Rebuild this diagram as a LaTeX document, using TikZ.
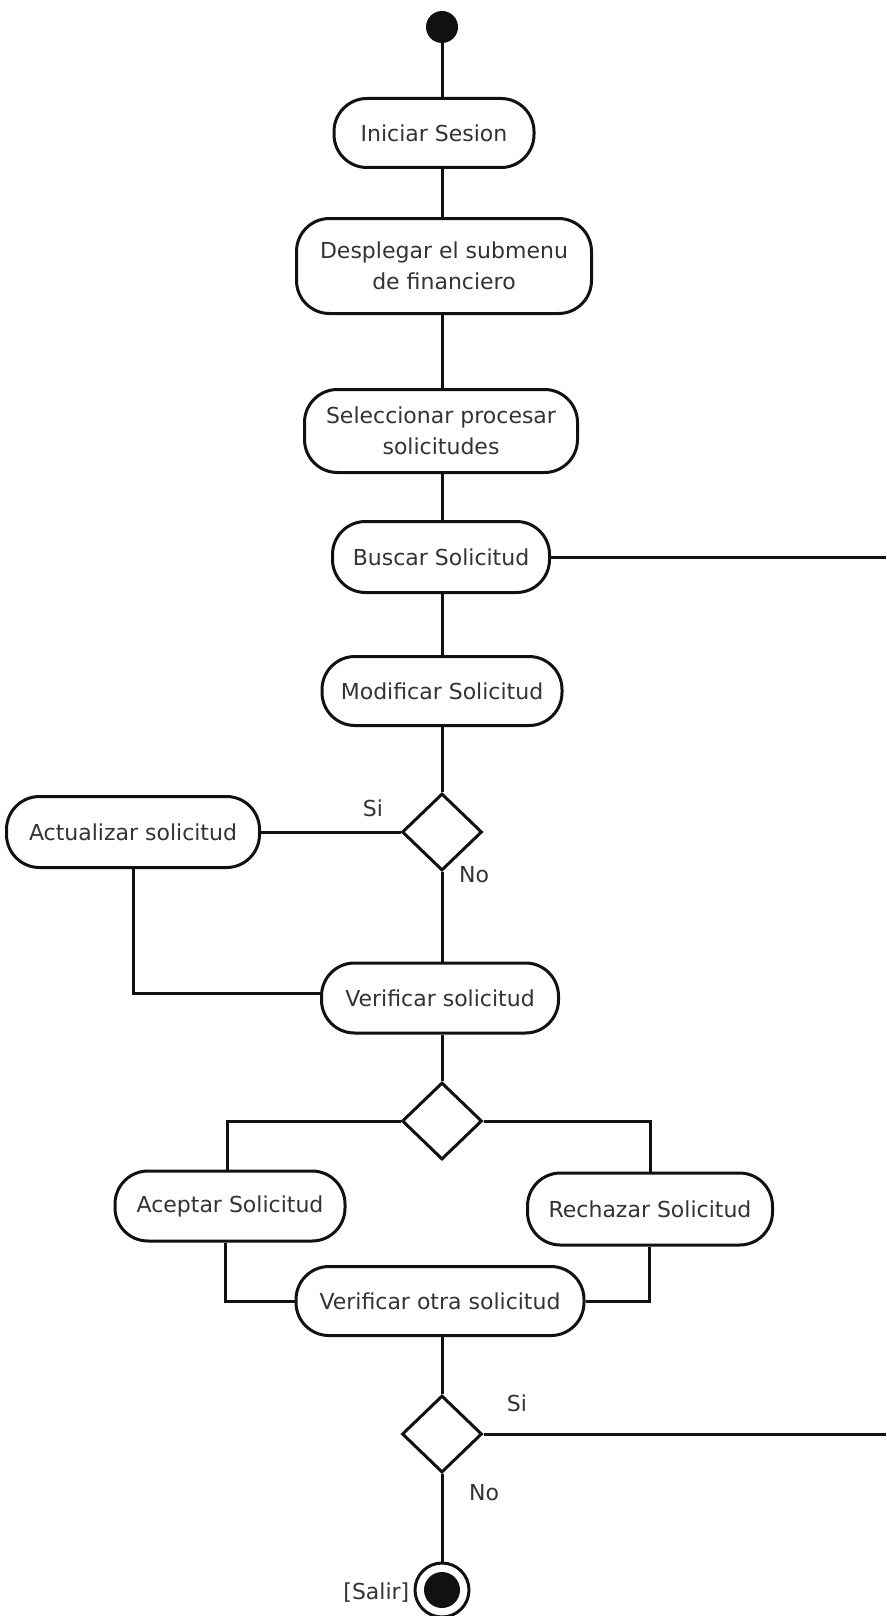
\documentclass[tikz,border=0pt]{standalone}
\usepackage{fontspec}
\setmainfont{DejaVu Sans}
\usepackage{xcolor}
\usepackage{tikz}
\usetikzlibrary{positioning, calc, shapes.geometric}
\definecolor{ActLine}{HTML}{111111}
\definecolor{ActText}{HTML}{333333}

\tikzset{
  actbox/.style={draw=ActLine, line width=3pt, rounded corners=33pt, fill=white,
    align=center, text=ActText, inner sep=0pt},
  decision/.style={draw=ActLine, line width=3pt, diamond, fill=white, inner sep=0pt,
    minimum width=80pt, minimum height=77pt},
  flow/.style={draw=ActLine, line width=3pt},
  guard/.style={text=ActText, inner sep=0pt}
}

\begin{document}
\begin{tikzpicture}[x=1pt, y=-1pt, font=\fontsize{22}{31}\selectfont]
  \fill[white] (0,0) rectangle (886,1616);
  \useasboundingbox (0,0) rectangle (886,1616);
  % main column
  \node[fill=ActLine, circle, minimum size=32pt, inner sep=0pt] (inicio) at (442,27) {};
  \node[actbox, minimum width=200pt, minimum height=69pt] (iniciar) at (434,133) {Iniciar Sesion};
  \node[actbox, minimum width=295pt, minimum height=95pt] (despl) at (444,266) {Desplegar el submenu\\de financiero};
  \node[actbox, minimum width=273pt, minimum height=83pt] (selec) at (441,431) {Seleccionar procesar\\solicitudes};
  \node[actbox, minimum width=217pt, minimum height=71pt] (buscar) at (441,557) {Buscar Solicitud};
  \node[actbox, minimum width=240pt, minimum height=69pt] (modif) at (442,691) {Modificar Solicitud};
  \node[decision] (dec1) at (442,832) {};
  \node[actbox, minimum width=253pt, minimum height=71pt] (actual) at (133,832) {Actualizar solicitud};
  \node[actbox, minimum width=237pt, minimum height=70pt] (verif) at (440,998) {Verificar solicitud};
  \node[decision] (dec2) at (442,1121) {};
  \node[actbox, minimum width=230pt, minimum height=70pt] (aceptar) at (230,1206) {Aceptar Solicitud};
  \node[actbox, minimum width=245pt, minimum height=72pt] (rechazar) at (650,1209) {Rechazar Solicitud};
  \node[actbox, minimum width=288pt, minimum height=69pt] (verotra) at (440,1301) {Verificar otra solicitud};
  \node[decision] (dec3) at (442,1434) {};
  \node[draw=ActLine, line width=3pt, circle, fill=white, minimum size=54pt, inner sep=0pt] (fin) at (442,1590) {};
  \fill[ActLine] (fin.center) circle (18pt);
  \coordinate (bucleA) at (886,557);
  \coordinate (bucleB) at (886,1434);

  % connectors
  \draw[flow] (inicio) -- (inicio |- iniciar.north);
  \foreach \a/\b in {iniciar/despl, despl/selec, selec/buscar, buscar/modif}{
     \draw[flow] (\a.south -| dec1) -- (\b.north -| dec1);}
  \draw[flow] (modif.south -| dec1) -- (dec1.north);
  \draw[flow] (buscar.east) -- (bucleA);
  \draw[flow] (dec1.west) -- (actual.east);
  \draw[flow] (dec1.south) -- (verif.north -| dec1);
  \draw[flow] (actual.south) |- ([yshift=5pt]verif.west);
  \draw[flow] (verif.south -| dec2) -- (dec2.north);
  \draw[flow] (dec2.west) -| ([xshift=-3pt]aceptar.north);
  \draw[flow] (dec2.east) -| (rechazar.north);
  \draw[flow] ([xshift=-5pt]aceptar.south) |- (verotra.west);
  \draw[flow] ([xshift=-1pt]rechazar.south) |- (verotra.east);
  \draw[flow] (verotra.south -| dec3) -- (dec3.north);
  \draw[flow] (dec3.east) -- (bucleB);
  \draw[flow] (dec3.south) -- (fin.north);

  % guards
  \node[guard] (si1) at (373,808) {Si};
  \node[guard] (no1) at (474,875) {No};
  \node[guard] (si2) at (517,1403) {Si};
  \node[guard] (no2) at (484,1493) {No};
  \node[guard, left=4pt of fin.west, yshift=-3pt] (salir) {[Salir]};
\end{tikzpicture}
\end{document}
